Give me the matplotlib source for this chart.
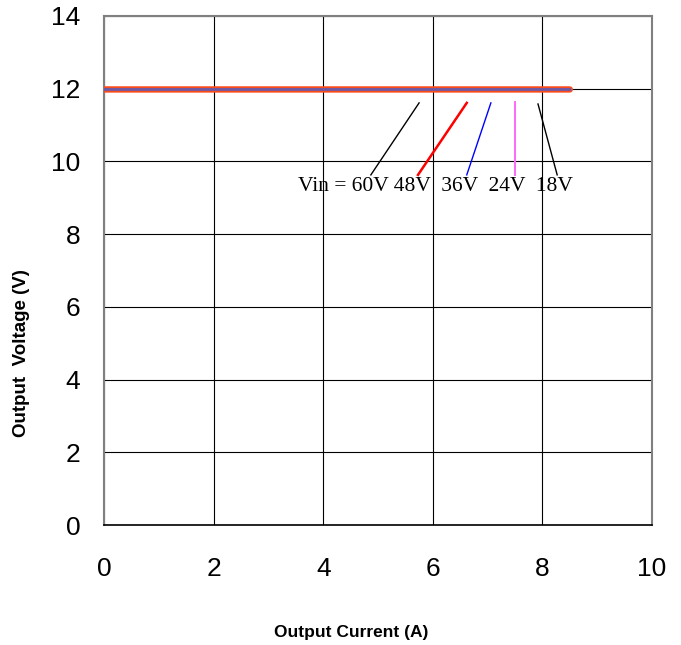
import matplotlib
matplotlib.use("Agg")
import matplotlib.pyplot as plt

# data
current = [0, 1, 2, 3, 4, 5, 6, 7, 8, 8.5]
v_60 = [11.98, 11.98, 11.98, 11.98, 11.98, 11.98, 11.98, 11.98, 11.98, 11.98]
v_48 = [11.98, 11.98, 11.98, 11.98, 11.98, 11.98, 11.98, 11.98, 11.98, 11.98]
v_36 = [11.98, 11.98, 11.98, 11.98, 11.98, 11.98, 11.98, 11.98, 11.98, 11.98]
v_24 = [11.98, 11.98, 11.98, 11.98, 11.98, 11.98, 11.98, 11.98, 11.98, 11.98]
v_18 = [11.98, 11.98, 11.98, 11.98, 11.98, 11.98, 11.98, 11.98, 11.98, 11.98]

xticks = [0, 2, 4, 6, 8, 10]
yticks = [0, 2, 4, 6, 8, 10, 12, 14]

# annotation leader lines: (label, color, x_top, y_top, x_bot, y_bot)
leaders = [
    ("60V", "black", 5.75, 11.61, 4.87, 9.63),
    ("48V", "red", 6.62, 11.61, 5.73, 9.63),
    ("36V", "blue", 7.06, 11.61, 6.62, 9.63),
    ("24V", "#FF66FF", 7.50, 11.63, 7.50, 9.63),
    ("18V", "black", 7.92, 11.58, 8.27, 9.63),
]

fig = plt.figure(figsize=(6.81, 6.45), dpi=100)
ax = fig.add_axes([0.1527, 0.186, 0.8047, 0.7892])

ax.set_xlim(0, 10)
ax.set_ylim(0, 14)
ax.set_xticks(xticks)
ax.set_yticks(yticks)
ax.grid(True, color="black", linewidth=0.8)
ax.set_axisbelow(True)
for s in ["left", "top", "right"]:
    ax.spines[s].set_color("#808080")
    ax.spines[s].set_linewidth(1.5)
ax.spines["bottom"].set_color("black")
ax.spines["bottom"].set_linewidth(1.2)

ax.plot(current, v_60, color="#FF4A1A", linewidth=4.6, solid_capstyle="round", zorder=3, snap=False)
ax.plot(current, v_48, color="#F05020", linewidth=3.0, zorder=4, snap=False)
ax.plot(current, v_36, color="#5858C0", linewidth=1.8, zorder=5, snap=False)
ax.plot(current, v_24, color="#7A5AA8", linewidth=1.2, zorder=5, snap=False)
ax.plot(current, v_18, color="#6A5AA0", linewidth=0.6, zorder=6, snap=False)

for lab, c, x0, y0, x1, y1 in leaders:
    lw = 1.8 if c == "red" else (1.4 if c == "#FF66FF" else 1.0)
    ax.plot([x0, x1], [y0, y1], color=c, linewidth=lw, zorder=6)

ax.text(6.05, 9.32, "Vin = 60V 48V  36V  24V  18V", ha="center", va="center",
        family="Liberation Serif", fontsize=15.5, zorder=7)

ax.tick_params(axis="both", length=0, labelsize=19)
ax.tick_params(axis="x", pad=23)
ax.tick_params(axis="y", pad=17)
for lbl in ax.get_xticklabels() + ax.get_yticklabels():
    lbl.set_family("Liberation Sans")

fig.text(351 / 681, 1 - 632 / 645, "Output Current (A)", family="Liberation Sans",
         fontweight="bold", fontsize=12.5, ha="center", va="center")
fig.text(22 / 681, 1 - 353 / 645, "Output  Voltage (V)", family="Liberation Sans",
         fontweight="bold", fontsize=13.5, ha="center", va="center", rotation=90)

fig.savefig("out.png", dpi=100)
